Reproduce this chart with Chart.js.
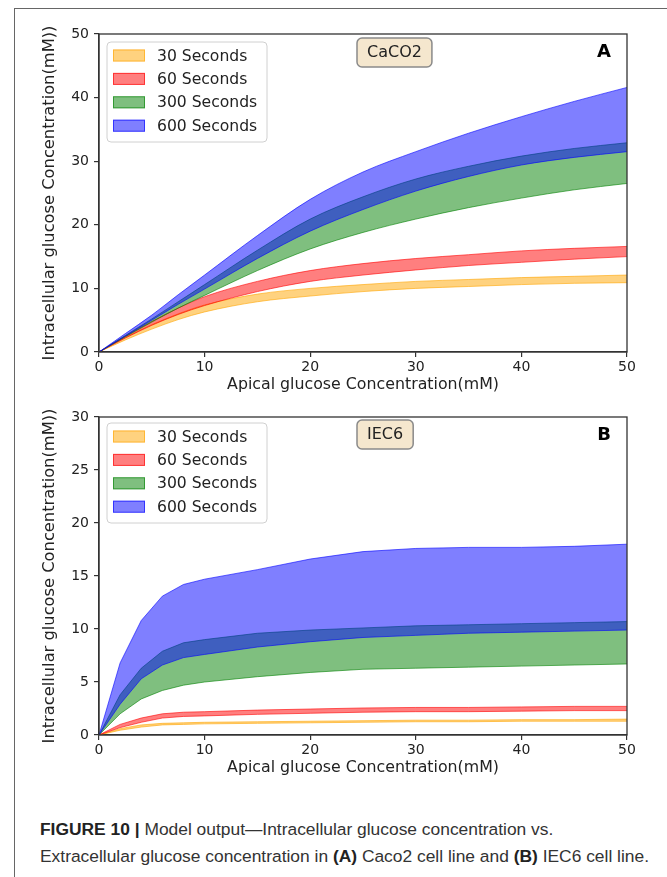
<!DOCTYPE html>
<html>
<head>
<meta charset="utf-8">
<script src="https://cdn.jsdelivr.net/npm/chart.js@4.4.0/dist/chart.umd.min.js"></script>
<style>
  body { margin: 0; background: #fff; }
  #page { position: relative; width: 667px; height: 877px; overflow: hidden; background: #fff; }
  #frame { position: absolute; left: 14px; top: 8px; width: 670px; height: 890px;
           border-top: 1px solid #666; border-left: 1px solid #666; }
  .panel { position: absolute; left: 0; }
  #caption { position: absolute; left: 40px; top: 816px; font-family: 'Liberation Sans', Arial, sans-serif;
             font-size: 17.4px; line-height: 27px; color: #333; white-space: nowrap; }
  #caption b { color: #222; }
</style>
</head>
<body>
<div id="page">
  <div id="frame"></div>
  <canvas id="chartA" class="panel" width="667" height="400" style="top:0px"></canvas>
  <canvas id="chartB" class="panel" width="667" height="400" style="top:383px"></canvas>
  <div id="caption"><b>FIGURE 10 |</b> Model output—Intracellular glucose concentration vs.<br>Extracellular glucose concentration in <b>(A)</b> Caco2 cell line and <b>(B)</b> IEC6 cell line.</div>
</div>
<script>
// legend labels
const seriesNames = ['30 Seconds', '60 Seconds', '300 Seconds', '600 Seconds'];

// panel A - CaCO2
const xA = [0, 2.5, 5, 7.5, 10, 15, 20, 25, 30, 35, 40, 45, 50];
const a30lo  = [0, 1.9, 3.6, 5.1, 6.3, 7.9, 8.8, 9.5, 10.0, 10.3, 10.6, 10.8, 10.9];
const a30hi  = [0, 2.3, 4.3, 6.0, 7.4, 9.1, 10.0, 10.6, 11.1, 11.4, 11.7, 11.9, 12.1];
const a60lo  = [0, 2.2, 4.2, 5.9, 7.3, 9.5, 11.1, 12.1, 12.9, 13.6, 14.1, 14.6, 15.0];
const a60hi  = [0, 2.5, 4.8, 6.9, 8.7, 11.1, 12.8, 13.9, 14.7, 15.3, 15.9, 16.3, 16.6];
const a300lo = [0, 2.4, 4.7, 6.9, 8.9, 12.8, 16.2, 18.8, 20.9, 22.7, 24.2, 25.5, 26.5];
const a300hi = [0, 2.6, 5.2, 7.9, 10.6, 16.0, 20.9, 24.4, 27.2, 29.2, 30.8, 32.0, 32.9];
const a600lo = [0, 2.5, 5.0, 7.5, 9.9, 14.7, 19.0, 22.4, 25.3, 27.6, 29.4, 30.6, 31.5];
const a600hi = [0, 2.9, 5.8, 9.0, 12.1, 18.3, 24.0, 28.3, 31.5, 34.4, 37.0, 39.4, 41.6];

// panel B - IEC6
const xB = [0, 2, 4, 6, 8, 10, 15, 20, 25, 30, 35, 40, 45, 50];
const b30lo  = [0, 0.45, 0.75, 0.95, 1.0, 1.05, 1.1, 1.15, 1.2, 1.25, 1.25, 1.3, 1.3, 1.3];
const b30hi  = [0, 0.6, 0.95, 1.1, 1.15, 1.2, 1.25, 1.3, 1.35, 1.4, 1.4, 1.45, 1.45, 1.5];
const b60lo  = [0, 0.7, 1.2, 1.6, 1.75, 1.8, 1.95, 2.05, 2.15, 2.2, 2.2, 2.25, 2.3, 2.3];
const b60hi  = [0, 1.0, 1.6, 2.0, 2.15, 2.2, 2.35, 2.45, 2.55, 2.6, 2.6, 2.65, 2.7, 2.7];
const b300lo = [0, 2.0, 3.4, 4.2, 4.7, 5.0, 5.5, 5.9, 6.2, 6.3, 6.4, 6.5, 6.6, 6.7];
const b300hi = [0, 3.8, 6.3, 7.9, 8.7, 9.0, 9.6, 9.9, 10.1, 10.3, 10.4, 10.5, 10.6, 10.7];
const b600lo = [0, 2.9, 5.3, 6.6, 7.3, 7.6, 8.3, 8.8, 9.2, 9.4, 9.6, 9.7, 9.8, 9.9];
const b600hi = [0, 6.8, 10.8, 13.1, 14.2, 14.7, 15.6, 16.6, 17.3, 17.6, 17.7, 17.7, 17.8, 18.0];

const yTicksA = [0, 10, 20, 30, 40, 50];
const yTicksB = [0, 5, 10, 15, 20, 25, 30];
const xTicks = [0, 10, 20, 30, 40, 50];

const fills = ['rgba(255,165,0,0.5)', 'rgba(255,0,0,0.5)', 'rgba(0,128,0,0.5)', 'rgba(0,0,255,0.5)'];
const edges = ['rgba(255,165,0,0.6)', 'rgba(255,0,0,0.6)', 'rgba(0,128,0,0.6)', 'rgba(0,0,255,0.6)'];

Chart.defaults.font.family = '"DejaVu Sans", sans-serif';
Chart.defaults.color = '#222';

function pts(xs, ys) {
  return xs.map(function (x, i) { return { x: x, y: ys[i] }; });
}

// two datasets per band: lower edge, then upper edge filled down to it
function bands(xs, los, his, smooth) {
  var out = [];
  los.forEach(function (lo, k) {
    var common = {
      borderColor: edges[k],
      backgroundColor: fills[k],
      borderWidth: 1,
      pointRadius: 0,
      tension: 0,
      cubicInterpolationMode: smooth ? 'monotone' : 'default',
      order: 4 - k   // 600 s drawn last, on top
    };
    out.push(Object.assign({ data: pts(xs, lo), fill: false }, common));
    out.push(Object.assign({ label: seriesNames[k], data: pts(xs, his[k]), fill: '-1' }, common));
  });
  return out;
}

function roundRect(ctx, x, y, w, h, r) {
  ctx.beginPath();
  ctx.moveTo(x + r, y);
  ctx.arcTo(x + w, y, x + w, y + h, r);
  ctx.arcTo(x + w, y + h, x, y + h, r);
  ctx.arcTo(x, y + h, x, y, r);
  ctx.arcTo(x, y, x + w, y, r);
  ctx.closePath();
}

const panelDecor = {
  id: 'panelDecor',
  afterDatasetsDraw(chart, args, opts) {
    var ctx = chart.ctx, a = chart.chartArea;
    ctx.save();

    // legend box
    var items = chart.data.datasets.filter(function (d) { return d.label; });
    var bx = a.left + 8, by = a.top + opts.legendTop;
    roundRect(ctx, bx, by, 160, 100, 4);
    ctx.fillStyle = 'rgba(255,255,255,0.85)';
    ctx.fill();
    ctx.strokeStyle = '#d0d0d0';
    ctx.lineWidth = 1;
    ctx.stroke();
    ctx.font = '15.6px "DejaVu Sans"';
    ctx.textBaseline = 'middle';
    ctx.textAlign = 'left';
    items.forEach(function (d, i) {
      var cy = by + 13.5 + i * 23.4;
      ctx.fillStyle = d.backgroundColor;
      ctx.fillRect(bx + 6, cy - 6, 32, 12);
      ctx.strokeStyle = d.borderColor;
      ctx.strokeRect(bx + 6.5, cy - 5.5, 31, 11);
      ctx.fillStyle = '#222';
      ctx.fillText(d.label, bx + 50, cy + 1);
    });

    // cell line tag
    ctx.font = '16px "DejaVu Sans"';
    var tw = ctx.measureText(opts.tag).width;
    var tx = 357, ty = a.top + opts.tagTop;
    roundRect(ctx, tx, ty, tw + 20, 29, 5);
    ctx.fillStyle = '#f5e7ce';
    ctx.fill();
    ctx.strokeStyle = '#8a8a8a';
    ctx.lineWidth = 1.5;
    ctx.stroke();
    ctx.fillStyle = '#222';
    ctx.textAlign = 'center';
    ctx.fillText(opts.tag, tx + (tw + 20) / 2, ty + 15);

    // panel letter
    ctx.font = 'bold 18px "DejaVu Sans"';
    ctx.fillStyle = '#000';
    ctx.fillText(opts.letter, a.right - 23, a.top + 18);

    // plot frame
    ctx.strokeStyle = '#333';
    ctx.lineWidth = 1.3;
    ctx.strokeRect(a.left, a.top, a.right - a.left, a.bottom - a.top);
    ctx.restore();
  }
};

function makeChart(id, datasets, yTicks, decor) {
  var yMax = yTicks[yTicks.length - 1];
  return new Chart(document.getElementById(id), {
    type: 'line',
    data: { datasets: datasets },
    options: {
      responsive: false,
      animation: false,
      layout: { padding: { top: 34, right: 40, left: 0, bottom: 0 } },
      plugins: { legend: { display: false }, tooltip: { enabled: false }, panelDecor: decor },
      scales: {
        x: {
          type: 'linear', min: 0, max: 50,
          afterBuildTicks: function (s) { s.ticks = xTicks.map(function (v) { return { value: v }; }); },
          afterFit: function (s) { s.height = 48; },
          grid: { drawOnChartArea: false, drawTicks: true, tickLength: 5, color: '#333', lineWidth: 1.2 },
          border: { color: '#333', width: 1.3 },
          ticks: { font: { size: 14 }, padding: 2, maxRotation: 0 },
          title: { display: true, text: 'Apical glucose Concentration(mM)', font: { size: 15.8 }, padding: { top: 0, bottom: 6 } }
        },
        y: {
          type: 'linear', min: 0, max: yMax,
          afterBuildTicks: function (s) { s.ticks = yTicks.map(function (v) { return { value: v }; }); },
          afterFit: function (s) { s.width = 99; },
          grid: { drawOnChartArea: false, drawTicks: true, tickLength: 5, color: '#333', lineWidth: 1.2 },
          border: { color: '#333', width: 1.3 },
          ticks: { font: { size: 14 }, padding: 5 },
          title: { display: true, text: 'Intracellular glucose Concentration(mM))', font: { size: 16.3 }, padding: { top: 40, bottom: 0 } }
        }
      }
    },
    plugins: [panelDecor]
  });
}

makeChart('chartA',
  bands(xA, [a30lo, a60lo, a300lo, a600lo], [a30hi, a60hi, a300hi, a600hi], true),
  yTicksA, { tag: 'CaCO2', letter: 'A', legendTop: 8, tagTop: 4 });

makeChart('chartB',
  bands(xB, [b30lo, b60lo, b300lo, b600lo], [b30hi, b60hi, b300hi, b600hi], false),
  yTicksB, { tag: 'IEC6', letter: 'B', legendTop: 6, tagTop: 3 });
</script>
</body>
</html>
